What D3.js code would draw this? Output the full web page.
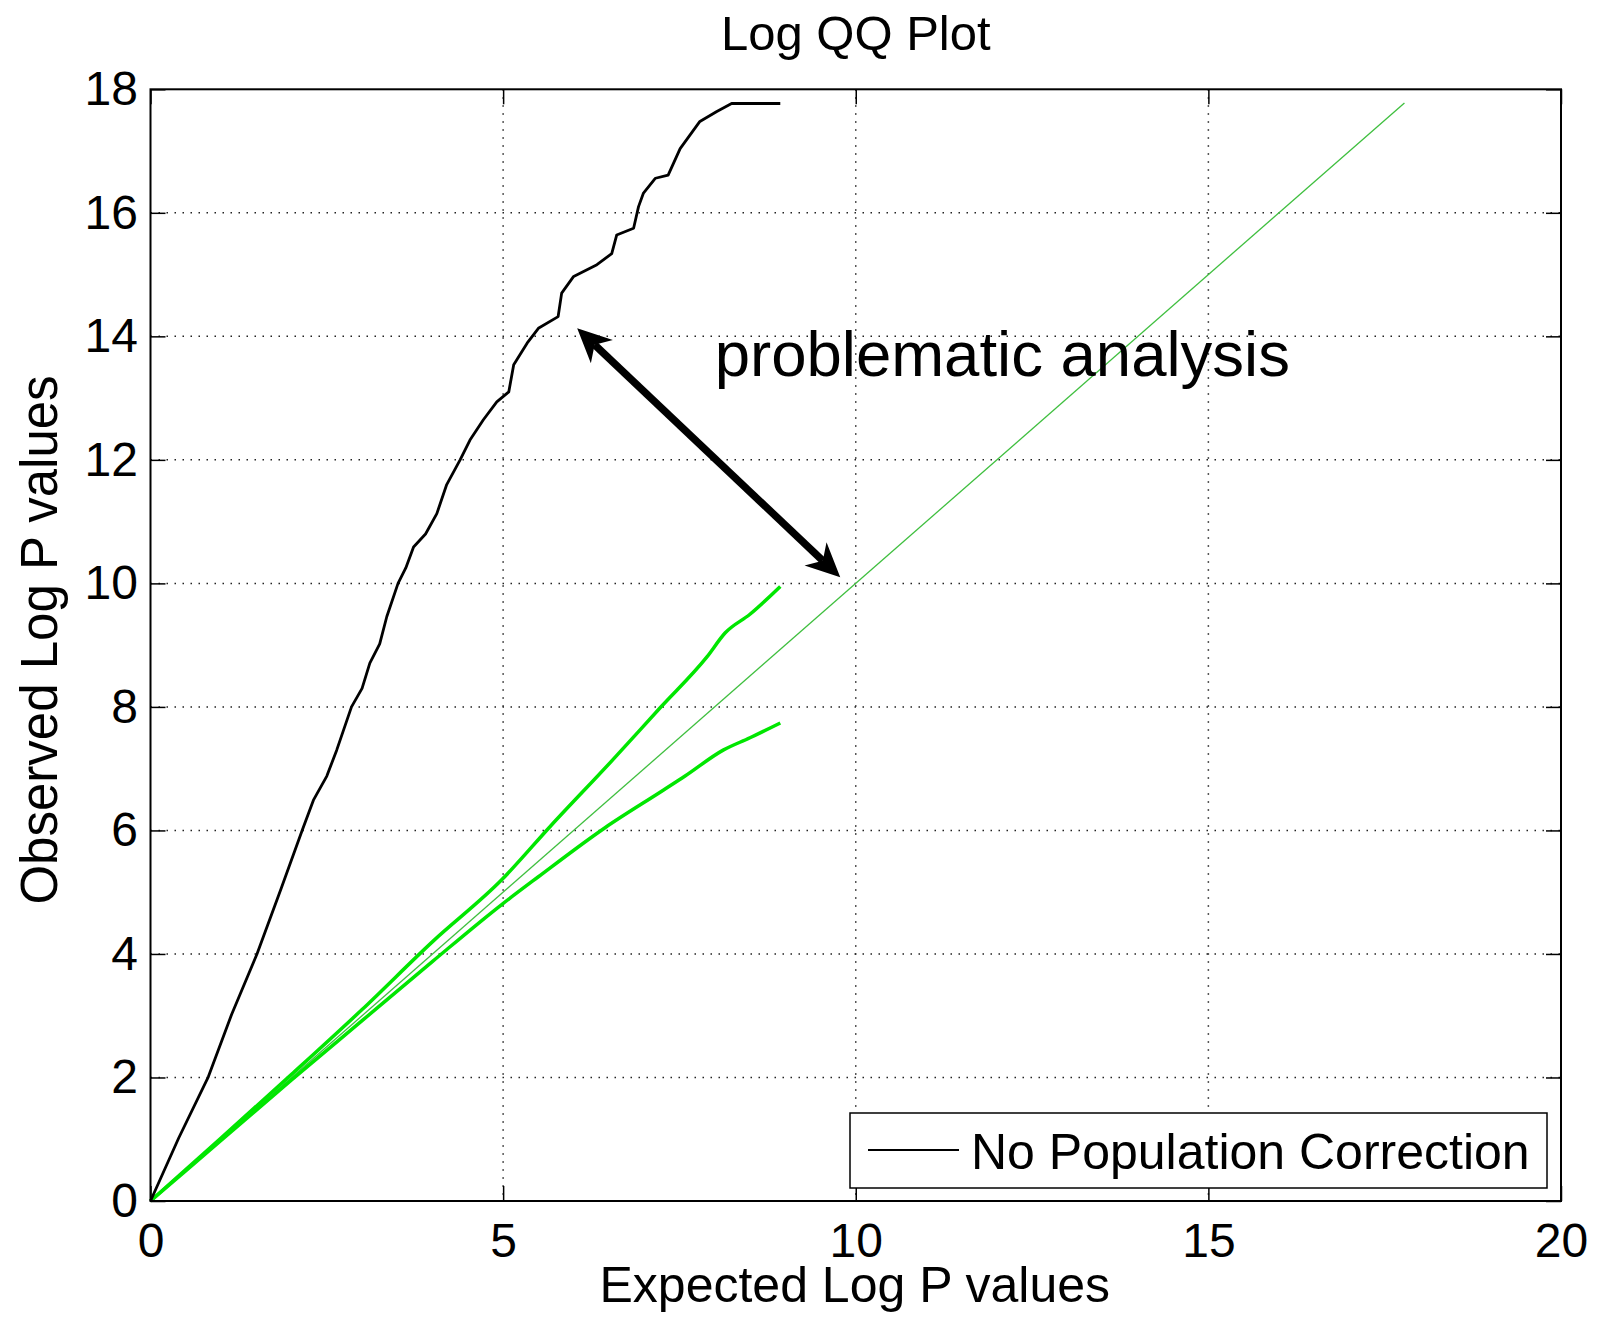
<!DOCTYPE html>
<html>
<head>
<meta charset="utf-8">
<script src="https://cdn.jsdelivr.net/npm/d3@7"></script>
<style>
  body { margin: 0; background: #fff; }
  svg { display: block; }
  text { font-family: "Liberation Sans", Arial, Helvetica, sans-serif; fill: #000; }
</style>
</head>
<body>
<div id="viz"></div>
<script>
// tick labels
const xTicks = [0, 5, 10, 15, 20]
const yTicks = [0, 2, 4, 6, 8, 10, 12, 14, 16, 18]

// black curve: no population correction
const noCorrX = [0, 0.40, 0.82, 1.15, 1.51, 1.85, 2.15, 2.31, 2.50, 2.64, 2.85, 3.00, 3.11, 3.25, 3.35, 3.51, 3.62, 3.73, 3.90, 4.06, 4.20, 4.39, 4.53, 4.72, 4.91, 5.08, 5.15, 5.34, 5.50, 5.78, 5.83, 6.00, 6.33, 6.54, 6.61, 6.85, 6.92, 6.99, 7.16, 7.34, 7.51, 7.79, 8.03, 8.24, 8.93]
const noCorrY = [0, 1.02, 2.01, 3.02, 4.00, 5.05, 6.00, 6.49, 6.88, 7.30, 8.00, 8.30, 8.71, 9.02, 9.46, 10.00, 10.25, 10.59, 10.80, 11.13, 11.60, 12.00, 12.32, 12.65, 12.94, 13.10, 13.54, 13.89, 14.13, 14.32, 14.70, 14.97, 15.16, 15.34, 15.64, 15.75, 16.10, 16.32, 16.56, 16.61, 17.04, 17.48, 17.64, 17.77, 17.77]

// green curves
const upperX = [0, 1, 2, 3, 4, 4.98, 5.68, 6.56, 7.23, 7.89, 8.15, 8.50, 8.93]
const upperY = [0, 1.02, 2.05, 3.10, 4.20, 5.20, 6.08, 7.15, 7.99, 8.81, 9.20, 9.50, 9.95]
const lowerX = [0, 1, 2, 3, 4, 4.98, 5.50, 6.44, 7.27, 7.58, 8.12, 8.50, 8.93]
const lowerY = [0, 0.98, 1.96, 2.92, 3.88, 4.80, 5.25, 6.04, 6.65, 6.88, 7.30, 7.50, 7.74]
const diagX = [0, 17.78]
const diagY = [0, 17.78]

// annotation
const arrowFrom = [6.05, 14.13]
const arrowTo = [9.78, 10.10]
const noteText = 'problematic analysis'
const notePos = [8.0, 13.36]

const width = 1617,
    height = 1326
const margin = { top: 89.3, right: 56, bottom: 125, left: 150.5 },
    innerWidth = width - margin.left - margin.right,
    innerHeight = height - margin.top - margin.bottom

const svg = d3.select('#viz').append('svg')
    .attr('width', width)
    .attr('height', height)

const g = svg.append('g')
    .attr('transform', `translate(${margin.left}, ${margin.top})`)

const x = d3.scaleLinear().domain([0, 20]).range([0, innerWidth])
const y = d3.scaleLinear().domain([0, 18]).range([innerHeight, 0])

// dotted grid
const grid = g.append('g')
    .attr('stroke', '#222')
    .attr('stroke-width', 1.5)
    .attr('stroke-dasharray', '1.5,6.5')
grid.selectAll('.gx').data(xTicks.slice(1, -1)).enter().append('line')
    .attr('x1', d => x(d)).attr('x2', d => x(d))
    .attr('y1', 0).attr('y2', innerHeight)
grid.selectAll('.gy').data(yTicks.slice(1, -1)).enter().append('line')
    .attr('x1', 0).attr('x2', innerWidth)
    .attr('y1', d => y(d)).attr('y2', d => y(d))

const line = d3.line().x(d => x(d[0])).y(d => y(d[1]))
const smooth = d3.line().x(d => x(d[0])).y(d => y(d[1])).curve(d3.curveMonotoneX)
const pts = (xs, ys) => xs.map((v, i) => [v, ys[i]])

g.append('path').datum(pts(diagX, diagY))
    .attr('d', line).attr('fill', 'none')
    .attr('stroke', '#3fbf3f').attr('stroke-width', 1.3)
g.append('path').datum(pts(upperX, upperY))
    .attr('d', smooth).attr('fill', 'none')
    .attr('stroke', '#00e600').attr('stroke-width', 3.5)
g.append('path').datum(pts(lowerX, lowerY))
    .attr('d', smooth).attr('fill', 'none')
    .attr('stroke', '#00e600').attr('stroke-width', 3.5)
g.append('path').datum(pts(noCorrX, noCorrY))
    .attr('d', line).attr('fill', 'none')
    .attr('stroke', '#000').attr('stroke-width', 2.8)
    .attr('stroke-linejoin', 'round')

// axes, ticks pointing inward
const fontSize = 48
const xAxisG = g.append('g')
    .attr('transform', `translate(0, ${innerHeight})`)
    .call(d3.axisBottom(x).tickValues(xTicks).tickSize(-15).tickPadding(21.5))
const yAxisG = g.append('g')
    .call(d3.axisLeft(y).tickValues(yTicks).tickSize(-15).tickPadding(12.5))
const xTopG = g.append('g')
    .call(d3.axisTop(x).tickValues(xTicks).tickSize(-15))
const yRightG = g.append('g')
    .attr('transform', `translate(${innerWidth}, 0)`)
    .call(d3.axisRight(y).tickValues(yTicks).tickSize(-15))
xTopG.selectAll('.tick text').remove()
yRightG.selectAll('.tick text').remove()

;[xAxisG, yAxisG, xTopG, yRightG].forEach(a => {
    a.attr('font-size', fontSize).attr('font-family', null)
    a.select('.domain').remove()
    a.selectAll('.tick line').attr('stroke', '#000').attr('stroke-width', 1.5)
    a.selectAll('.tick text').attr('fill', '#000')
})

g.append('rect')
    .attr('width', innerWidth).attr('height', innerHeight)
    .attr('fill', 'none').attr('stroke', '#000').attr('stroke-width', 2)

// titles
svg.append('text')
    .attr('x', margin.left + innerWidth / 2).attr('y', 50)
    .attr('text-anchor', 'middle').attr('font-size', 49)
    .text('Log QQ Plot')
svg.append('text')
    .attr('x', margin.left + innerWidth / 2 - 1).attr('y', 1302)
    .attr('text-anchor', 'middle').attr('font-size', 50)
    .text('Expected Log P values')
svg.append('text')
    .attr('transform', `translate(57, 640) rotate(-90)`)
    .attr('text-anchor', 'middle').attr('font-size', 51)
    .text('Observed Log P values')

// legend
const legend = g.append('g')
    .attr('transform', `translate(${850 - margin.left}, ${1113 - margin.top})`)
legend.append('rect')
    .attr('width', 697).attr('height', 75)
    .attr('fill', '#fff').attr('stroke', '#000').attr('stroke-width', 1.5)
legend.append('line')
    .attr('x1', 18).attr('x2', 109).attr('y1', 37).attr('y2', 37)
    .attr('stroke', '#000').attr('stroke-width', 2)
legend.append('text')
    .attr('x', 121).attr('y', 56).attr('font-size', 50)
    .text('No Population Correction')

// annotation: double headed arrow + text
const p1 = [x(arrowFrom[0]), y(arrowFrom[1])],
    p2 = [x(arrowTo[0]), y(arrowTo[1])]
const len = Math.hypot(p2[0] - p1[0], p2[1] - p1[1])
const ux = (p2[0] - p1[0]) / len,
    uy = (p2[1] - p1[1]) / len
const headLen = 34, headHalf = 16, notch = 24

g.append('line')
    .attr('x1', p1[0] + ux * notch).attr('y1', p1[1] + uy * notch)
    .attr('x2', p2[0] - ux * notch).attr('y2', p2[1] - uy * notch)
    .attr('stroke', '#000').attr('stroke-width', 7.5)

function head(tip, dx, dy) {
    // dx, dy point from tip back into the shaft
    const bx = tip[0] + dx * headLen, by = tip[1] + dy * headLen
    const nx = -dy, ny = dx
    return [
        tip,
        [bx + nx * headHalf, by + ny * headHalf],
        [tip[0] + dx * notch, tip[1] + dy * notch],
        [bx - nx * headHalf, by - ny * headHalf]
    ]
}
g.selectAll('.arrowhead')
    .data([head(p1, ux, uy), head(p2, -ux, -uy)])
    .enter().append('path')
    .attr('d', d => 'M' + d.join('L') + 'Z')
    .attr('fill', '#000')

g.append('text')
    .attr('x', x(notePos[0])).attr('y', y(notePos[1]))
    .attr('font-size', 63.5)
    .text(noteText)
</script>
</body>
</html>
